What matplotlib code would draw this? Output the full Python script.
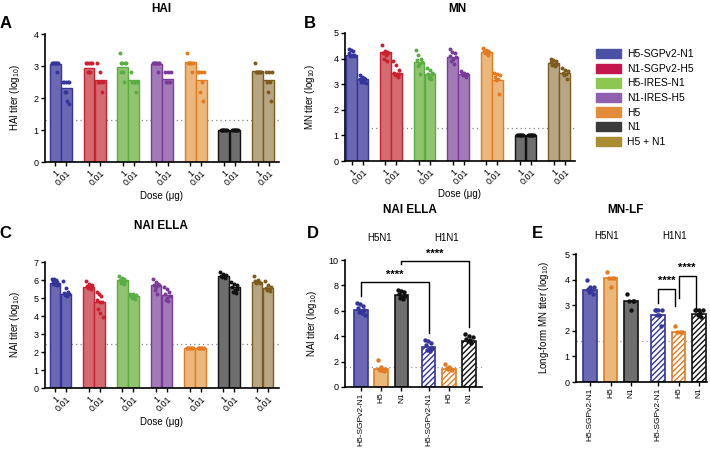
import numpy as np
import matplotlib
matplotlib.use("Agg")
import matplotlib.pyplot as plt
from matplotlib.patches import Patch

plt.rcParams['font.family'] = ['Liberation Sans', 'DejaVu Sans']
plt.rcParams['mathtext.fontset'] = 'custom'
plt.rcParams['mathtext.rm'] = 'Liberation Sans'
plt.rcParams['hatch.linewidth'] = 1.0

# ---- data ----
groups = ['H5-SGPv2-N1', 'N1-SGPv2-H5', 'H5-IRES-N1', 'N1-IRES-H5', 'H5', 'N1', 'H5 + N1']
doses = ['1', '0.01']

hai_means = [[3.06, 2.3], [2.95, 2.55], [2.98, 2.55], [3.07, 2.58], [3.12, 2.55], [1.0, 1.0], [2.85, 2.55]]
hai_points = [
    [[3.1] * 7 + [2.8], [2.5] * 5 + [2.2, 2.2, 1.9, 1.8]],
    [[3.1] * 5 + [2.8] * 3, [3.1, 2.8, 2.5, 2.5, 2.5, 2.5, 2.2]],
    [[3.4, 3.1, 3.1, 3.1, 3.1, 2.8, 2.8, 2.5], [2.8, 2.5, 2.5, 2.5, 2.5, 2.5, 2.2]],
    [[3.1] * 7 + [2.8], [2.8, 2.8, 2.8, 2.5, 2.5, 2.5, 2.5]],
    [[3.4, 3.1, 3.1, 3.1, 3.1, 3.1, 2.8], [2.8, 2.8, 2.8, 2.8, 2.5, 2.2, 1.9]],
    [[1.0] * 8, [1.0] * 8],
    [[3.1, 2.8, 2.8, 2.8, 2.8, 2.8, 2.8], [2.8, 2.8, 2.8, 2.5, 2.5, 2.2, 1.9]],
]

mn_means = [[4.15, 3.2], [4.25, 3.45], [3.85, 3.4], [4.05, 3.4], [4.27, 3.16], [1.0, 1.0], [3.83, 3.45]]
mn_points = [
    [[4.38, 4.33, 4.3, 4.2, 4.15, 4.15, 4.12, 4.1, 4.1], [3.35, 3.3, 3.25, 3.2, 3.2, 3.15, 3.1, 3.1, 3.05]],
    [[4.55, 4.3, 4.25, 4.2, 4.2, 4.15, 4.0, 3.9], [3.9, 3.75, 3.55, 3.45, 3.4, 3.4, 3.35, 3.3]],
    [[4.35, 4.15, 4.0, 3.95, 3.85, 3.8, 3.7, 3.4], [3.65, 3.55, 3.45, 3.4, 3.4, 3.3, 3.25, 3.2]],
    [[4.38, 4.25, 4.2, 4.1, 4.05, 4.0, 3.9, 3.8], [3.5, 3.45, 3.4, 3.4, 3.35, 3.35, 3.3]],
    [[4.4, 4.35, 4.3, 4.3, 4.25, 4.25, 4.2, 4.15], [3.45, 3.4, 3.35, 3.3, 3.2, 3.15, 2.6]],
    [[1.0] * 8, [1.0] * 8],
    [[3.98, 3.95, 3.9, 3.85, 3.8, 3.8, 3.75, 3.7], [3.65, 3.55, 3.5, 3.45, 3.4, 3.35, 3.2]],
]

nai_means = [[5.85, 5.25], [5.62, 4.78], [5.98, 5.12], [5.72, 5.15], [2.2, 2.2], [6.25, 5.6], [5.9, 5.55]]
nai_points = [
    [[6.05, 6.05, 6.0, 5.95, 5.9, 5.85, 5.8, 5.75, 5.7], [5.95, 5.55, 5.35, 5.3, 5.25, 5.2, 5.15, 5.1]],
    [[5.95, 5.8, 5.7, 5.65, 5.6, 5.55, 5.5], [5.35, 5.25, 5.1, 4.9, 4.8, 4.8, 4.4, 4.15, 3.95]],
    [[6.2, 6.1, 6.05, 6.0, 5.95, 5.9, 5.85, 5.8], [5.25, 5.2, 5.15, 5.1, 5.05, 5.0, 4.95]],
    [[6.05, 5.9, 5.8, 5.75, 5.7, 5.6, 5.45, 5.2], [5.6, 5.5, 5.35, 5.2, 5.1, 5.0, 4.9, 4.85]],
    [[2.2] * 8, [2.2] * 8],
    [[6.45, 6.35, 6.3, 6.25, 6.2, 6.15, 6.1], [5.9, 5.8, 5.7, 5.6, 5.5, 5.45, 5.35, 5.3]],
    [[6.2, 6.0, 5.95, 5.9, 5.85, 5.85], [5.95, 5.75, 5.6, 5.55, 5.5, 5.45, 5.4]],
]

cmp_labels = ['H5-SGPv2-N1', 'H5', 'N1', 'H5-SGPv2-N1', 'H5', 'N1']
cmp_groups = [0, 4, 5, 0, 4, 5]          # colour index into groups
cmp_hatched = [False, False, False, True, True, True]

nai2_means = [6.1, 1.4, 7.25, 3.15, 1.45, 3.65]
nai2_points = [[6.6, 6.5, 6.35, 6.2, 6.1, 6.0, 5.9, 5.8, 5.7], [2.1, 1.55, 1.45, 1.4, 1.35, 1.3, 1.25],
               [7.6, 7.55, 7.45, 7.3, 7.2, 7.1, 7.0, 6.9], [3.7, 3.6, 3.45, 3.3, 3.1, 3.0, 2.9, 2.8],
               [1.8, 1.6, 1.5, 1.45, 1.4, 1.35], [4.15, 4.0, 3.9, 3.8, 3.7, 3.6, 3.5]]

mnlf_means = [3.6, 4.05, 3.15, 2.6, 1.95, 2.65]
mnlf_points = [[4.0, 3.7, 3.7, 3.65, 3.6, 3.5, 3.45], [4.3, 4.05, 4.05, 4.05, 3.7],
               [3.45, 3.15, 3.15, 3.15, 2.8], [2.8, 2.8, 2.8, 2.8, 2.6, 2.6, 2.2],
               [2.2, 1.95, 1.95, 1.95], [2.8, 2.8, 2.8, 2.8, 2.7, 2.6, 2.55]]

# ---- styles ----
edge_c = ['#34359a', '#cc1f2f', '#5aad44', '#7a3a98', '#e37b22', '#111111', '#7d5a1e']
fill_c = ['#6b68b3', '#d36b70', '#91c46e', '#a27ab8', '#ebb77a', '#6e6e6e', '#b7a684']
leg_c = ['#4b52a6', '#c4154f', '#8cc850', '#9060b0', '#e38c3a', '#3a3a3a', '#a88e30']

fig = plt.figure(figsize=(7.1, 4.49), dpi=100)
W, H = 710.0, 449.0


def add_ax(x0, x1, ytop, ybot):
    ax = fig.add_axes([x0 / W, 1 - ybot / H, (x1 - x0) / W, (ybot - ytop) / H])
    ax.spines['top'].set_visible(False)
    ax.spines['right'].set_visible(False)
    ax.spines['left'].set_linewidth(1.2)
    ax.spines['bottom'].set_linewidth(1.2)
    ax.tick_params(axis='both', direction='out', length=3, width=1, labelsize=6.5, pad=1.5)
    return ax


def jitter(n, spread):
    return np.linspace(-spread, spread, n)[np.argsort(np.arange(n) % 3)] if n > 1 else np.zeros(1)


def dose_panel(ax, means, points, ymax, lod, ylabel, xlim, ylab_x):
    off = 0.165
    xt, xl = [], []
    for g in range(len(groups)):
        for d in range(2):
            x = g + (d * 2 - 1) * off
            ax.bar(x, means[g][d], width=0.32, color=fill_c[g], edgecolor=edge_c[g], linewidth=1.0, zorder=2)
            pts = points[g][d]
            ax.scatter(x + jitter(len(pts), 0.09), pts, s=8, color=edge_c[g], zorder=3, linewidths=0)
            xt.append(x)
            xl.append(doses[d])
    ax.axhline(lod, color='#888888', linestyle=(0, (1, 2.5)), linewidth=0.9, zorder=1)
    ax.set_xlim(*xlim)
    ax.set_ylim(0, ymax)
    ax.set_yticks(range(ymax + 1))
    ax.set_xticks(xt)
    ax.set_xticklabels(xl, rotation=45, ha='right', rotation_mode='anchor')
    ax.set_ylabel(ylabel, fontsize=7)
    ax.yaxis.set_label_coords(ylab_x, 0.5)


def cmp_panel(ax, means, points, ymax, lod, ylabel, xlim, ylab_x):
    pos = [0, 1, 2, 3.35, 4.35, 5.35]
    for i, p in enumerate(pos):
        g = cmp_groups[i]
        if cmp_hatched[i]:
            ax.bar(p, means[i], width=0.68, color='white', edgecolor=edge_c[g], hatch='//////',
                   linewidth=1.2, zorder=2)
        else:
            ax.bar(p, means[i], width=0.68, color=fill_c[g], edgecolor=edge_c[g], linewidth=1.2, zorder=2)
        pts = points[i]
        ax.scatter(p + jitter(len(pts), 0.18), pts, s=10, color=edge_c[g], zorder=3, linewidths=0)
    ax.axhline(lod, color='#999999', linestyle=(0, (1, 2.5)), linewidth=0.9, zorder=1)
    ax.set_xlim(*xlim)
    ax.set_ylim(0, ymax)
    ax.set_xticks(pos)
    ax.set_xticklabels(cmp_labels, rotation=90)
    ax.tick_params(axis='x', labelsize=6, pad=1)
    ax.set_ylabel(ylabel, fontsize=7)
    ax.yaxis.set_label_coords(ylab_x, 0.5)
    return pos


def bracket(ax, x1, x2, y, y1, y2, ystar):
    ax.plot([x1, x1, x2, x2], [y1, y, y, y2], color='black', linewidth=1.0, clip_on=False, zorder=4)
    ax.text((x1 + x2) / 2, ystar, '****', ha='center', va='center', fontsize=8, fontweight='bold')


# A: HAI
axA = add_ax(45, 279, 34, 162)
dose_panel(axA, hai_means, hai_points, 4, 1.3, 'HAI titer (log$_{10}$)', (-0.47, 6.47), -0.1)
# B: MN
axB = add_ax(345, 575, 33, 161)
dose_panel(axB, mn_means, mn_points, 5, 1.3, 'MN titer (log$_{10}$)', (-0.36, 6.47), -0.12)
# C: NAI ELLA
axC = add_ax(45, 279, 262, 388)
dose_panel(axC, nai_means, nai_points, 7, 2.45, 'NAI titer (log$_{10}$)', (-0.46, 6.49), -0.1)

# D: NAI ELLA comparison
axD = add_ax(345, 482, 260, 387)
posD = cmp_panel(axD, nai2_means, nai2_points, 10, 1.6, 'NAI titer (log$_{10}$)', (-0.8, 6.0), -0.19)
axD.set_yticks([0, 2, 4, 6, 8, 10])
bracket(axD, posD[0], posD[3], 8.27, 7.2, 4.25, 8.85)
bracket(axD, posD[2], posD[5], 9.9, 9.7, 4.7, 10.5)

# E: MN-LF
axE = add_ax(576, 707, 254, 382)
posE = cmp_panel(axE, mnlf_means, mnlf_points, 5, 1.6, 'Long-form MN titer (log$_{10}$)', (-0.7, 5.75), -0.19)
axE.set_yticks(range(6))
bracket(axE, posE[3], posE[4] - 0.2, 3.63, 3.1, 2.97, 3.95)
bracket(axE, posE[4], posE[5] - 0.15, 4.14, 3.3, 2.9, 4.47)

# texts
def ftext(x, y, s, **kw):
    fig.text(x / W, 1 - y / H, s, ha='center', va='center', **kw)


ftext(6, 23, 'A', fontsize=12, fontweight='bold')
ftext(310, 23, 'B', fontsize=12, fontweight='bold')
ftext(5, 233, 'C', fontsize=12, fontweight='bold')
ftext(313, 234, 'D', fontsize=12, fontweight='bold')
ftext(537, 234, 'E', fontsize=12, fontweight='bold')
ftext(161, 9, 'HAI', fontsize=8.5, fontweight='bold')
ftext(457, 9, 'MN', fontsize=8.5, fontweight='bold')
ftext(161, 226, 'NAI ELLA', fontsize=8.5, fontweight='bold')
ftext(410, 210, 'NAI ELLA', fontsize=8.5, fontweight='bold')
ftext(625, 210, 'MN-LF', fontsize=8.5, fontweight='bold')
ftext(161, 196, 'Dose (μg)', fontsize=7)
ftext(460, 194, 'Dose (μg)', fontsize=7)
ftext(161, 422, 'Dose (μg)', fontsize=7)
ftext(380, 238, 'H5N1', fontsize=7)
ftext(447, 238, 'H1N1', fontsize=7)
ftext(607, 236, 'H5N1', fontsize=7)
ftext(675, 236, 'H1N1', fontsize=7)

handles = [Patch(facecolor=c, edgecolor=c) for c in leg_c]
fig.legend(handles, groups, loc='upper left', bbox_to_anchor=(596 / W, 1 - 49 / H), frameon=False,
           fontsize=7.5, handlelength=2.4, handleheight=1.0, labelspacing=0.42, handletextpad=0.6,
           borderaxespad=0, borderpad=0)

fig.savefig('out.png', dpi=100)
